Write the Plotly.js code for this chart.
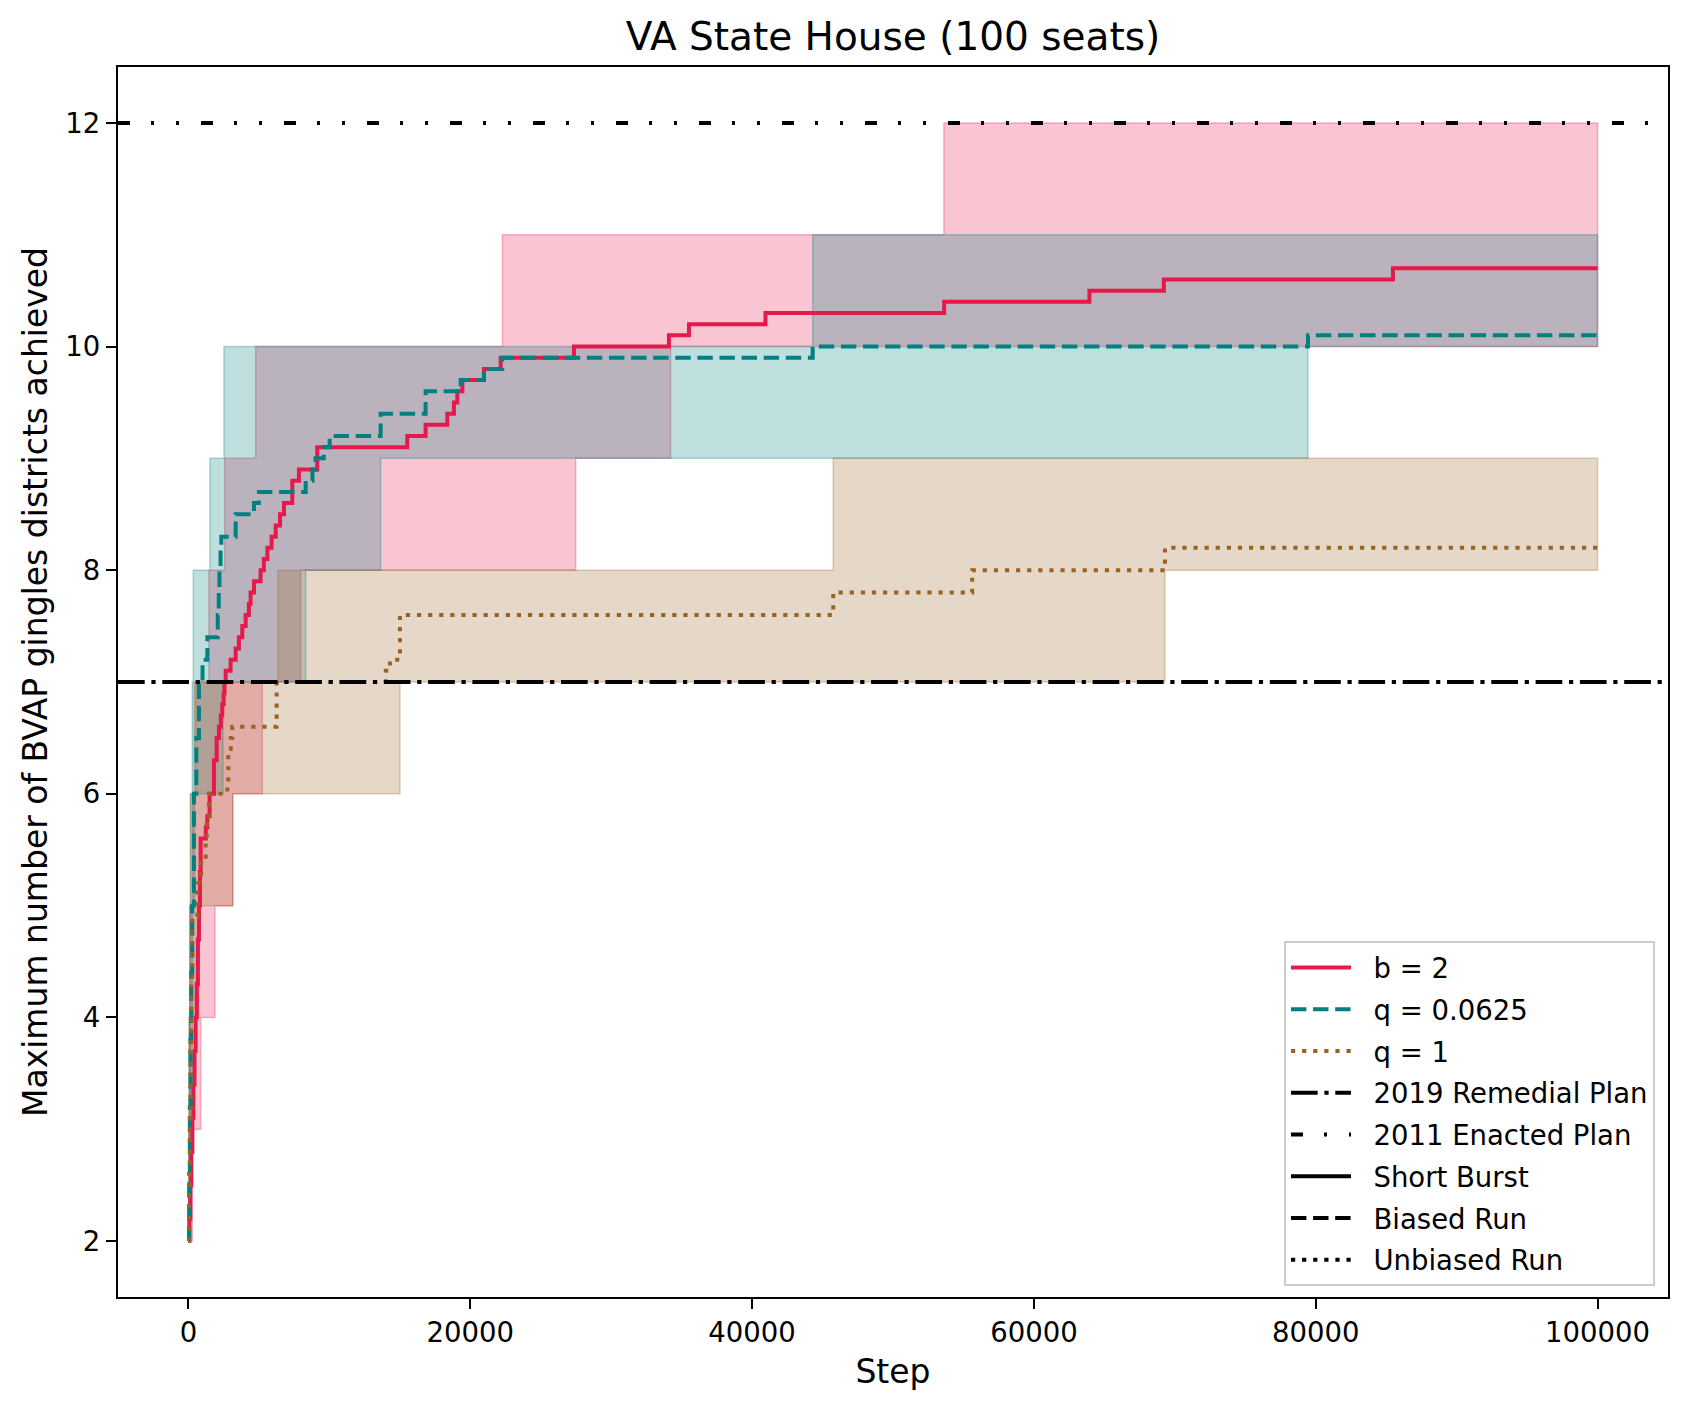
<!DOCTYPE html>
<html>
<head>
<meta charset="utf-8">
<script src="https://cdn.plot.ly/plotly-3.0.1.min.js"></script>
<style>
  html, body { margin: 0; padding: 0; background: #fff; }
  #chart { width: 1688px; height: 1410px; }
</style>
</head>
<body>
<div id="chart"></div>
<script>
// ---- data (step-post series) ----
const END_STEP = 100000;
const X_RANGE = [-5000, 105000];

// b = 2 (short burst)
const redX = [0, 60, 130, 200, 280, 350, 430, 510, 590, 670, 746, 820, 865, 1230, 1337, 1500, 1810, 2000, 2165, 2300, 2400, 2500, 2560, 2640, 2990, 3350, 3580, 3820, 4060, 4290, 4410, 4650, 5120, 5350, 5600, 5900, 6190, 6500, 6780, 7370, 7840, 9140, 15530, 16830, 18370, 18840, 19080, 19440, 20970, 22160, 27360, 34100, 35520, 40950, 53630, 63940, 69220, 85480];
const redMean = [2.0, 2.2, 2.5, 2.8, 3.1, 3.4, 3.7, 4.0, 4.3, 4.7, 5.0, 5.3, 5.6, 5.7, 5.8, 6.0, 6.3, 6.5, 6.6, 6.7, 6.8, 6.9, 7.0, 7.1, 7.2, 7.3, 7.4, 7.5, 7.6, 7.7, 7.8, 7.9, 8.0, 8.1, 8.2, 8.3, 8.4, 8.5, 8.6, 8.8, 8.9, 9.1, 9.2, 9.3, 9.4, 9.5, 9.6, 9.7, 9.8, 9.9, 10.0, 10.1, 10.2, 10.3, 10.4, 10.5, 10.6, 10.7];
const redMinX = [0, 272, 864, 1880, 3150, 5240, 7960, 27480, 34220];
const redMin = [2, 3, 4, 5, 6, 7, 8, 9, 10];
const redMaxX = [0, 30, 80, 150, 300, 510, 1455, 2570, 4770, 22280, 53610];
const redMax = [2, 3, 4, 5, 6, 7, 8, 9, 10, 11, 12];

// q = 0.0625 (biased run)
const tealX = [0, 50, 100, 150, 200, 270, 390, 560, 745, 1000, 1340, 2080, 2150, 2200, 2280, 2330, 3350, 4650, 5000, 8320, 8800, 9020, 9600, 10020, 13640, 16830, 19320, 20970, 22270, 44300, 79450];
const tealMean = [2.0, 2.6, 3.2, 3.8, 4.4, 5.0, 6.0, 6.5, 7.0, 7.2, 7.4, 7.6, 7.8, 8.0, 8.2, 8.3, 8.5, 8.6, 8.7, 8.8, 8.9, 9.0, 9.1, 9.2, 9.4, 9.6, 9.7, 9.8, 9.9, 10.0, 10.1];
const tealMinX = [0, 100, 180, 290, 430, 2450, 8320, 13640, 79450];
const tealMin = [2, 3, 4, 5, 6, 7, 8, 9, 10];
const tealMaxX = [0, 20, 50, 90, 140, 270, 343, 1525, 2520, 44300];
const tealMax = [2, 3, 4, 5, 6, 7, 8, 9, 10, 11];

// q = 1 (unbiased run)
const brownX = [0, 50, 100, 150, 200, 270, 630, 900, 1220, 1300, 1450, 2760, 2830, 3000, 3110, 6260, 14000, 14300, 15010, 45760, 55620, 69300];
const brownMean = [2.0, 2.5, 3.1, 3.7, 4.3, 4.9, 5.2, 5.4, 5.6, 5.8, 6.0, 6.1, 6.4, 6.5, 6.6, 7.0, 7.1, 7.2, 7.6, 7.8, 8.0, 8.2];
const brownMinX = [0, 150, 300, 745, 3150, 15010, 69300];
const brownMin = [2, 3, 4, 5, 6, 7, 8];
const brownMaxX = [0, 20, 50, 90, 150, 400, 6350, 45760];
const brownMax = [2, 3, 4, 5, 6, 7, 8, 9];

// reference plans
const REMEDIAL_2019 = 7;
const ENACTED_2011 = 12;

const COLORS = { red: '#e6194B', teal: '#008080', brown: '#9A6324' };
const FONT = 'DejaVu Sans, sans-serif';
const PAD = '\u00a0\u00a0'; // gap between legend handle and label

function rgba(hex, a) {
  const n = parseInt(hex.slice(1), 16);
  return `rgba(${(n >> 16) & 255},${(n >> 8) & 255},${n & 255},${a})`;
}

// vertices of a step-post curve, run out to END_STEP
function stepVerts(xs, ys) {
  const vx = [], vy = [];
  xs.forEach((x, i) => {
    vx.push(x); vy.push(ys[i]);
    const nx = i + 1 < xs.length ? xs[i + 1] : END_STEP;
    vx.push(nx); vy.push(ys[i]);
  });
  return { x: vx, y: vy };
}

// closed band between min and max step curves (like fill_between step='post')
function band(minX, minY, maxX, maxY, color) {
  const lo = stepVerts(minX, minY);
  const hi = stepVerts(maxX, maxY);
  return {
    x: lo.x.concat(hi.x.slice().reverse()),
    y: lo.y.concat(hi.y.slice().reverse()),
    type: 'scatter',
    mode: 'lines',
    fill: 'toself',
    fillcolor: rgba(color, 0.25),
    line: { color: rgba(color, 0.3), width: 1.5 },
    showlegend: false,
    hoverinfo: 'skip',
  };
}

function meanLine(xs, ys, name, color, dash) {
  return {
    x: xs.concat([END_STEP]),
    y: ys.concat([ys[ys.length - 1]]),
    type: 'scatter',
    mode: 'lines',
    name: PAD + name,
    legendgroup: name,
    line: { color: color, width: 4, dash: dash, shape: 'hv' },
  };
}

function hLine(yv, name, dash) {
  return {
    x: X_RANGE, y: [yv, yv],
    type: 'scatter', mode: 'lines', name: PAD + name,
    legendgroup: name,
    line: { color: '#000', width: 4, dash: dash },
  };
}

function legendOnly(name, dash) {
  return {
    x: [null], y: [null],
    type: 'scatter', mode: 'lines', name: PAD + name,
    legendgroup: name,
    line: { color: '#000', width: 4, dash: dash },
  };
}

const DASHED = '15.4px,6.7px';
const DOTTED = '4.2px,6.9px';

const traces = [
  band(redMinX, redMin, redMaxX, redMax, COLORS.red),
  band(tealMinX, tealMin, tealMaxX, tealMax, COLORS.teal),
  band(brownMinX, brownMin, brownMaxX, brownMax, COLORS.brown),
  meanLine(redX, redMean, 'b = 2', COLORS.red, 'solid'),
  meanLine(tealX, tealMean, 'q = 0.0625', COLORS.teal, DASHED),
  meanLine(brownX, brownMean, 'q = 1', COLORS.brown, DOTTED),
  hLine(REMEDIAL_2019, '2019 Remedial Plan', '26.7px,6.7px,4.2px,6.7px'),
  hLine(ENACTED_2011, '2011 Enacted Plan', '12px,21px,3px,22px,3px,22px'),
  legendOnly('Short Burst', 'solid'),
  legendOnly('Biased Run', DASHED),
  legendOnly('Unbiased Run', DOTTED),
];

const axisBase = {
  showgrid: false,
  zeroline: false,
  showline: true,
  mirror: true,
  linecolor: '#000',
  linewidth: 2.2,
  ticks: 'outside',
  ticklen: 10,
  tickwidth: 2,
  tickcolor: '#000',
  tickfont: { family: FONT, size: 27.5, color: '#000' },
};

const layout = {
  width: 1688,
  height: 1410,
  paper_bgcolor: '#fff',
  plot_bgcolor: '#fff',
  font: { family: FONT, color: '#000' },
  margin: { l: 118, r: 20, t: 67, b: 113 },
  title: {
    text: 'VA State House (100 seats)',
    font: { family: FONT, size: 39, color: '#000' },
    x: 0.5, xref: 'paper', xanchor: 'center',
    y: 0.974, yref: 'container', yanchor: 'middle',
  },
  xaxis: {
    ...axisBase,
    range: X_RANGE,
    tick0: 0, dtick: 20000,
    tickformat: 'd',
    title: { text: 'Step', font: { family: FONT, size: 33 }, standoff: 13 },
  },
  yaxis: {
    ...axisBase,
    range: [1.5, 12.5],
    tick0: 2, dtick: 2,
    title: { text: 'Maximum number of BVAP gingles districts achieved', font: { family: FONT, size: 33 }, standoff: 8 },
  },
  legend: {
    x: 0.9916, xanchor: 'right',
    y: 0.0089, yanchor: 'bottom',
    bgcolor: 'rgba(255,255,255,0.8)',
    bordercolor: '#cccccc',
    borderwidth: 2,
    font: { family: FONT, size: 27.5, color: '#000' },
    itemwidth: 60,
    traceorder: 'grouped',
    tracegroupgap: 3,
  },
  showlegend: true,
};

Plotly.newPlot('chart', traces, layout, { displayModeBar: false, staticPlot: true });
</script>
</body>
</html>
